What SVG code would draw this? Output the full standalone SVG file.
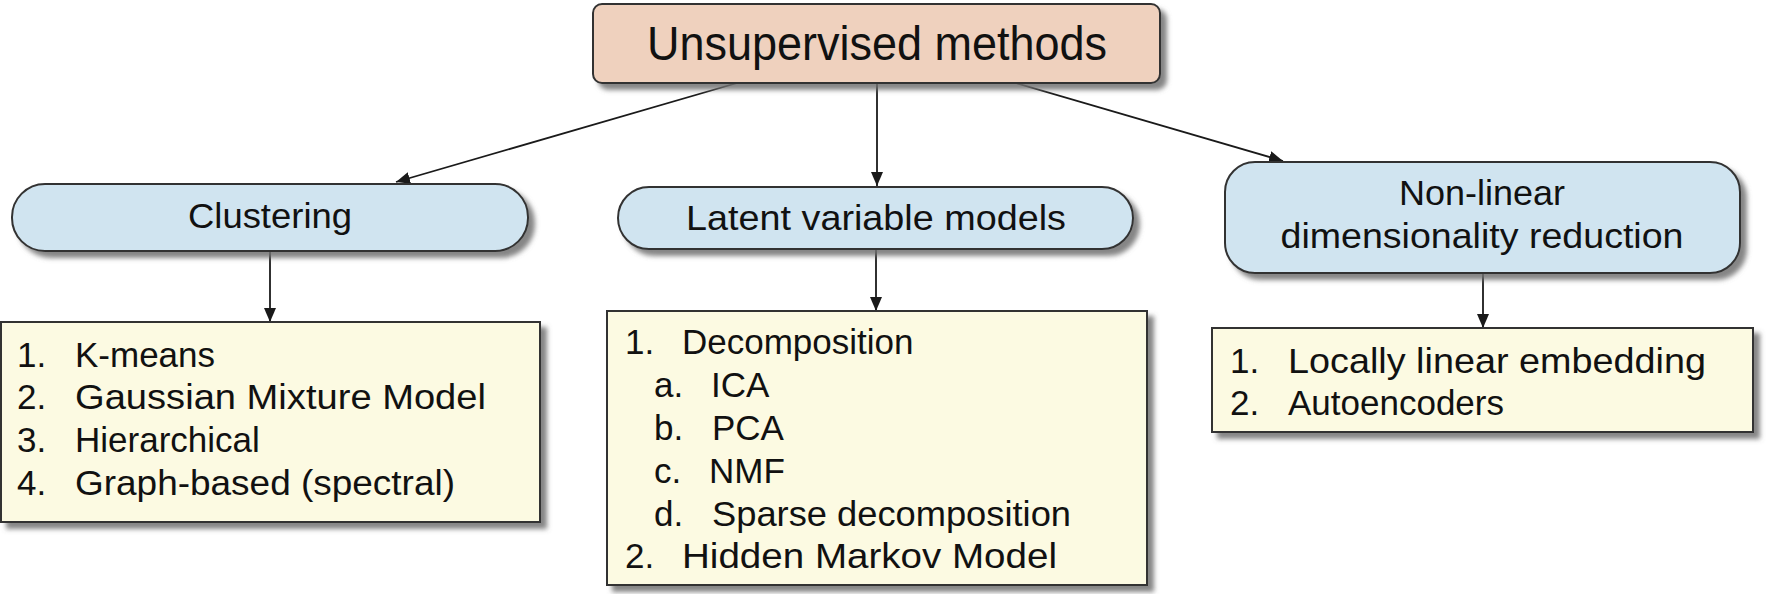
<svg xmlns="http://www.w3.org/2000/svg" width="1772" height="594" viewBox="0 0 1772 594">
<defs>
<filter id="sh" x="-5%" y="-10%" width="115%" height="130%">
<feDropShadow dx="6" dy="6" stdDeviation="2.5" flood-color="#6f6f6f" flood-opacity="0.85"/>
</filter>
<marker id="ah" viewBox="0 0 14 12" refX="14" refY="6" markerWidth="14" markerHeight="12" markerUnits="userSpaceOnUse" orient="auto">
<path d="M0,0 L14,6 L0,12 Z" fill="#1a1a1a"/>
</marker>
<style>
.t{font-family:"Liberation Sans",Arial,sans-serif;fill:#111;}
.ti{font-size:48px;text-anchor:middle;}
.h{font-size:35px;text-anchor:middle;}
.l{font-size:35px;}
.top{fill:#efd1be;stroke:#333;stroke-width:2;filter:url(#sh);}
.cat{fill:#d0e4f0;stroke:#333;stroke-width:2;filter:url(#sh);}
.lst{fill:#fcfae2;stroke:#333;stroke-width:2;filter:url(#sh);}
.c{stroke:#1a1a1a;stroke-width:1.8;fill:none;marker-end:url(#ah);}
</style>
</defs>
<rect width="1772" height="594" fill="#fff"/>
<g id="connectors">
<line class="c" x1="737" y1="83" x2="396" y2="182"/>
<line class="c" x1="877" y1="83" x2="877" y2="186"/>
<line class="c" x1="1016" y1="83" x2="1283" y2="161"/>
<line class="c" x1="270" y1="251" x2="270" y2="322"/>
<line class="c" x1="876" y1="249" x2="876" y2="311"/>
<line class="c" x1="1483" y1="273" x2="1483" y2="328"/>
</g>
<g id="unsupervised">
<rect class="top" x="593" y="4" width="567" height="79" rx="9"/>
<text class="t ti" x="877" y="60" textLength="460" lengthAdjust="spacingAndGlyphs">Unsupervised methods</text>
</g>
<g id="clustering">
<rect class="cat" x="12" y="184" width="516" height="67" rx="33"/>
<text class="t h" x="270" y="228" textLength="164" lengthAdjust="spacingAndGlyphs">Clustering</text>
</g>
<g id="latent">
<rect class="cat" x="618" y="187" width="515" height="62" rx="31"/>
<text class="t h" x="876" y="230" textLength="380" lengthAdjust="spacingAndGlyphs">Latent variable models</text>
</g>
<g id="nonlinear">
<rect class="cat" x="1225" y="162" width="515" height="111" rx="30"/>
<text class="t h" x="1482" y="205" textLength="166" lengthAdjust="spacingAndGlyphs">Non-linear</text>
<text class="t h" x="1482" y="248" textLength="403" lengthAdjust="spacingAndGlyphs">dimensionality reduction</text>
</g>
<g id="clustering-list">
<rect class="lst" x="1" y="322" width="539" height="200"/>
<text class="t l" x="17" y="367">1.</text><text class="t l" x="75" y="367">K-means</text>
<text class="t l" x="17" y="409">2.</text><text class="t l" x="75" y="409" textLength="411" lengthAdjust="spacingAndGlyphs">Gaussian Mixture Model</text>
<text class="t l" x="17" y="452">3.</text><text class="t l" x="75" y="452">Hierarchical</text>
<text class="t l" x="17" y="495">4.</text><text class="t l" x="75" y="495" textLength="380" lengthAdjust="spacingAndGlyphs">Graph-based (spectral)</text>
</g>
<g id="latent-list">
<rect class="lst" x="607" y="311" width="540" height="274"/>
<text class="t l" x="625" y="354">1.</text><text class="t l" x="682" y="354">Decomposition</text>
<text class="t l" x="654" y="397">a.</text><text class="t l" x="711" y="397">ICA</text>
<text class="t l" x="654" y="440">b.</text><text class="t l" x="712" y="440">PCA</text>
<text class="t l" x="654" y="483">c.</text><text class="t l" x="709" y="483">NMF</text>
<text class="t l" x="654" y="526">d.</text><text class="t l" x="712" y="526" textLength="359" lengthAdjust="spacingAndGlyphs">Sparse decomposition</text>
<text class="t l" x="625" y="568">2.</text><text class="t l" x="682" y="568" textLength="375" lengthAdjust="spacingAndGlyphs">Hidden Markov Model</text>
</g>
<g id="nonlinear-list">
<rect class="lst" x="1212" y="328" width="541" height="104"/>
<text class="t l" x="1230" y="373">1.</text><text class="t l" x="1288" y="373" textLength="418" lengthAdjust="spacingAndGlyphs">Locally linear embedding</text>
<text class="t l" x="1230" y="415">2.</text><text class="t l" x="1288" y="415">Autoencoders</text>
</g>
</svg>
